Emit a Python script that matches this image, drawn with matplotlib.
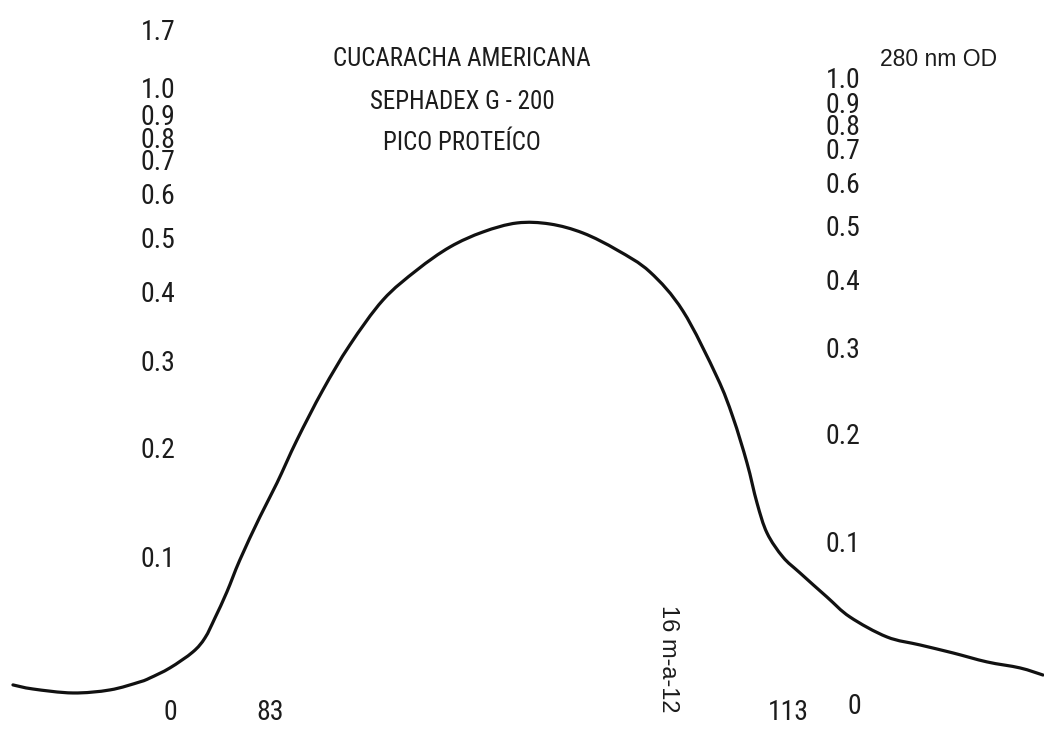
import os
import matplotlib
matplotlib.use("Agg")
import numpy as np
import matplotlib.pyplot as plt
from matplotlib import font_manager
from matplotlib.font_manager import FontProperties
from matplotlib.path import Path
from matplotlib.patches import PathPatch

# elution profile, Sephadex G-200, read at 280 nm
fraction = [68.12, 69.28, 71.59, 73.74, 75.47, 76.05, 77.21, 78.54, 79.24, 79.82,
            80.51, 81.26, 82.42, 83.41, 84.57, 86.07, 87.63, 89.55, 91.52, 93.43,
            95.34, 97.31, 99.22, 101.13, 103.10, 105.01, 106.92, 108.89, 109.81, 110.63,
            111.21, 111.79, 112.71, 113.70, 115.26, 116.59, 118.73, 120.65, 122.56, 124.53,
            126.44, 127.77]
od_280 = [0.0079, 0.0052, 0.0026, 0.0046, 0.0099, 0.0125, 0.0193, 0.0303, 0.0402, 0.0547,
          0.0743, 0.0997, 0.1364, 0.1677, 0.2110, 0.2673, 0.3251, 0.3918, 0.4428, 0.4863,
          0.5173, 0.5370, 0.5347, 0.5151, 0.4804, 0.4392, 0.3745, 0.2832, 0.2359, 0.1873,
          0.1490, 0.1223, 0.1021, 0.0892, 0.0704, 0.0554, 0.0409, 0.0352, 0.0296, 0.0234,
          0.0193, 0.0145]

od_ticks = [0.1, 0.2, 0.3, 0.4, 0.5, 0.6, 0.7, 0.8, 0.9, 1.0, 1.7]
od_tick_labels = ["0.1", "0.2", "0.3", "0.4", "0.5", "0.6", "0.7", "0.8", "0.9", "1.0", "1.7"]
peak_fractions = [83, 113]


def find_narrow_font():
    """Regular-weight narrow/condensed sans, if one is installed."""
    skip = ("bold", "light", "thin", "medium", "black", "semi", "extra", "italic", "oblique")
    found = {}
    for f in font_manager.fontManager.ttflist:
        stem = os.path.basename(f.fname).lower()
        if ("narrow" in stem or "condensed" in stem) and not any(s in stem for s in skip):
            found.setdefault(f.name, f.fname)
    for name in ("Liberation Sans Narrow", "Roboto Condensed", "DejaVu Sans", "Open Sans Condensed"):
        if name in found:
            return found[name]
    return next(iter(found.values()), None)


narrow_path = find_narrow_font()
if narrow_path:
    num_font = FontProperties(fname=narrow_path, size=20)
    title_font = FontProperties(fname=narrow_path, size=18)
else:
    num_font = FontProperties(family="Liberation Sans", size=17)
    title_font = FontProperties(family="Liberation Sans", size=16)
ink = "#1c1c1c"


# recorder paper is linear in transmittance, so OD is 1 - 10^-A on the page
def to_chart(a):
    return 1 - np.power(10.0, -np.asarray(a, dtype=float))


def from_chart(t):
    t = np.clip(np.asarray(t, dtype=float), None, 0.999999)
    return -np.log10(1 - t)


fig = plt.figure(figsize=(10.44, 7.38), dpi=100)
ax = fig.add_axes([0, 0, 1, 0.9458])
ax.set_yscale("function", functions=(to_chart, from_chart))
ax.set_xlim(67.37, 127.83)
ax.set_ylim(-0.0259, 1.783)
ax.axis("off")

# pen trace: smooth Catmull-Rom curve through the readings
pts = ax.transAxes.inverted().transform(ax.transData.transform(np.column_stack([fraction, od_280])))
verts, codes = [pts[0]], [Path.MOVETO]
n = len(pts)
for i in range(n - 1):
    p0 = pts[max(i - 1, 0)]
    p1, p2 = pts[i], pts[i + 1]
    p3 = pts[min(i + 2, n - 1)]
    verts += [p1 + (p2 - p0) / 6, p2 - (p3 - p1) / 6, p2]
    codes += [Path.CURVE4] * 3
ax.add_patch(PathPatch(Path(verts, codes), transform=ax.transAxes, fill=False,
                       edgecolor="#111111", lw=2.3, capstyle="round", joinstyle="round"))

# right-hand scale sits a little higher on the sheet
ax_r = ax.twinx()
ax_r.set_yscale("function", functions=(to_chart, from_chart))
ax_r.set_ylim(-0.0366, 1.519)
ax_r.axis("off")

# the crowded top labels were typed slightly off their true places
nudge_left = {1.7: 7.0, 1.0: 3.5, 0.9: -3.5, 0.8: -4.0}
nudge_right = {1.7: 4.0, 1.0: 4.0, 0.9: -2.0, 0.8: -2.0}
num = dict(fontproperties=num_font, color=ink, ha="center", va="center",
           textcoords="offset points")
for v, lab in zip(od_ticks, od_tick_labels):
    ax.annotate(lab, (76.52, v), xytext=(0, nudge_left.get(v, 0)), **num)
    ax_r.annotate(lab, (116.19, v), xytext=(0, nudge_right.get(v, 0)), **num)

ax.annotate("0", (77.21, 0), xytext=(0, -11.5), **num)
ax_r.annotate("0", (116.82, 0), xytext=(0, -19.4), **num)
for fr in peak_fractions:
    ax.annotate(str(fr), (fr, 0), xytext=(0, -11.5), **num)

title = dict(fontproperties=title_font, color=ink, ha="center", va="center")
fig.text(0.4425, 0.920, "CUCARACHA AMERICANA", **title)
fig.text(0.4425, 0.862, "SEPHADEX G - 200", **title)
fig.text(0.4425, 0.806, "PICO PROTEÍCO", **title)

fig.text(0.843, 0.920, "280 nm OD", fontsize=16.5, family="Liberation Sans", color=ink,
         ha="left", va="center")
fig.text(0.640, 0.107, "16 m-a-12", fontsize=17, family="Liberation Sans", color=ink,
         rotation=270, ha="center", va="center")

fig.savefig("out.png", dpi=100)
